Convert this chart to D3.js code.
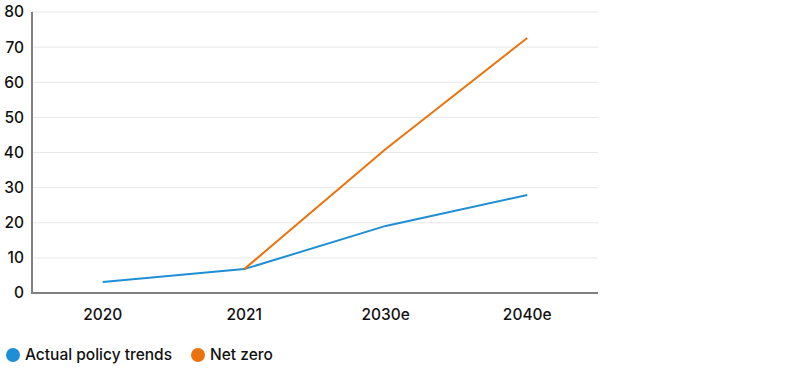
<!DOCTYPE html>
<html><head><meta charset="utf-8">
<script src="https://cdn.jsdelivr.net/npm/d3@7"></script>
<style>body{margin:0;background:#fff;font-family:Inter,"Noto Sans",sans-serif;}</style>
</head><body><svg id="c" width="800" height="370"></svg>
<script>
const categories = ["2020","2021","2030e","2040e"];
const actualPolicy = [3.1, 6.8, 19.1, 27.9];
const netZero = [null, 6.8, 41.0, 72.6];
const yTicks = [0,10,20,30,40,50,60,70,80];
const seriesNames = ["Actual policy trends","Net zero"];
const colors = ["#1e8fd5","#eb720c"];

const svg = d3.select("#c");
const m = {l:32, r:202, t:12, b:77};
const W = 800, H = 370;
const x = d3.scaleBand().domain(categories).range([m.l, W-m.r]);
const y = d3.scaleLinear().domain([0,80]).range([H-m.b, m.t]);

svg.append("g").selectAll("line").data(yTicks.filter(d=>d>0)).join("line")
  .attr("x1", m.l).attr("x2", W-m.r).attr("y1", d=>y(d)).attr("y2", d=>y(d))
  .attr("stroke", "#e8e8e8").attr("stroke-width", 1);

svg.append("g").selectAll("text").data(yTicks).join("text")
  .attr("x", 24).attr("y", d=>y(d)).attr("dy","0.35em").attr("text-anchor","end")
  .attr("font-size", 15.5).attr("font-weight",500).attr("fill","#111").text(d=>d);

svg.append("g").selectAll("text").data(categories).join("text")
  .attr("x", d=>x(d)+x.bandwidth()/2).attr("y", 320).attr("text-anchor","middle")
  .attr("font-size", 15.5).attr("font-weight",500).attr("fill","#111").text(d=>d);

svg.append("line").attr("x1", m.l).attr("x2", W-m.r).attr("y1", y(0)).attr("y2", y(0))
  .attr("stroke","#808080").attr("stroke-width",2);
svg.append("line").attr("x1", m.l).attr("x2", m.l).attr("y1", y(80)).attr("y2", y(0)+1)
  .attr("stroke","#808080").attr("stroke-width",2);

const line = d3.line().defined(d=>d.v!=null).x(d=>x(d.c)+x.bandwidth()/2).y(d=>y(d.v));
[actualPolicy, netZero].forEach((s,i)=>{
  svg.append("path").datum(categories.map((c,j)=>({c, v:s[j]})))
    .attr("d", line).attr("fill","none").attr("stroke", colors[i]).attr("stroke-width",2);
});

const legX = [13, 198];
const lg = svg.append("g");
seriesNames.forEach((n,i)=>{
  lg.append("circle").attr("cx", legX[i]).attr("cy", 355).attr("r", 7).attr("fill", colors[i]);
  lg.append("text").attr("x", legX[i]+12).attr("y", 355).attr("dy","0.35em")
    .attr("font-size", 15.5).attr("font-weight",500).attr("fill","#111").text(n);
});
</script></body></html>
